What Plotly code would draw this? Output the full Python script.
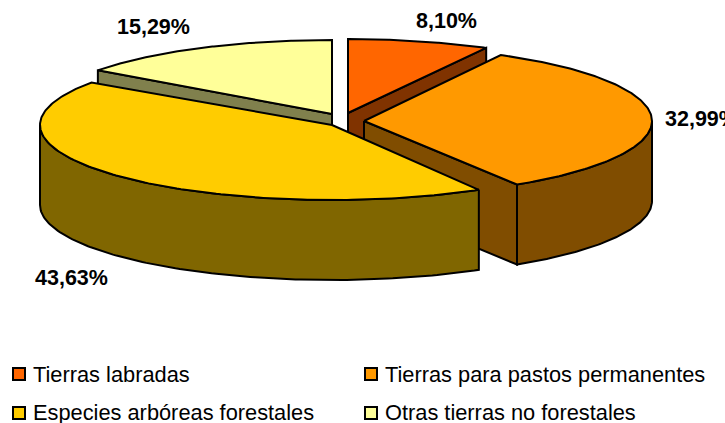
import numpy as np
import plotly.graph_objects as go

categories = ["Tierras labradas", "Tierras para pastos permanentes",
              "Especies arbóreas forestales", "Otras tierras no forestales"]
values = [8.10, 32.99, 43.63, 15.29]
top_colors = ["#FF6600", "#FF9900", "#FFCC00", "#FFFF99"]
wall_colors = ["#803300", "#804D00", "#806600", "#80804D"]

# pie geometry in page pixels
centers = [(348, 113), (364, 121), (332, 125), (332, 114)]
trim_start = [0, -0.8, 1.9, 1.2]
trim_end = [-0.7, 0, -0.4, 0]
radii_x = [290, 288, 292, 290]
radii_y = [74, 75, 75, 74]
depth = 80
label_pos = [(446, 21), (701, 119), (71, 278), (153, 27)]
legend_pos = [(19, 374), (371, 374), (19, 413), (371, 413)]
legend_text_pos = [(33, 374), (385, 374), (33, 412.5), (385, 412.5)]
draw_order = [3, 0, 1, 2]

total = sum(values)
edges = np.cumsum([0] + values) / total * 360


def pt(i, t):
    c = centers[i]
    r = np.radians(t)
    return c[0] + radii_x[i] * np.sin(r), c[1] - radii_y[i] * np.cos(r)


fig = go.Figure()


def poly(xs, ys, fill):
    fig.add_trace(go.Scatter(x=list(xs), y=list(ys), mode="lines", fill="toself", fillcolor=fill,
                             line=dict(color="black", width=2), hoverinfo="skip", showlegend=False))


for i in draw_order:
    c = centers[i]
    t0, t1 = edges[i] + trim_start[i], edges[i + 1] + trim_end[i]
    # the radial wall that faces the viewer
    if i != 2:
        ex, ey = pt(i, t0 if i == 3 else t1)
        poly([c[0], ex, ex, c[0], c[0]], [c[1], ey, ey + depth, c[1] + depth, c[1]], wall_colors[i])
    # outer wall: visible part of the rim, the front half of the ellipse
    a0, a1 = max(t0, 90), min(t1, 270)
    if a1 > a0:
        ts = np.linspace(a0, a1, 120)
        x, y = pt(i, ts)
        poly(np.r_[x, x[::-1], x[0]], np.r_[y, y[::-1] + depth, y[0]], wall_colors[i])
    # top face
    ts = np.linspace(t0, t1, 160)
    x, y = pt(i, ts)
    poly(np.r_[c[0], x, c[0]], np.r_[c[1], y, c[1]], top_colors[i])

for i, cat in enumerate(categories):
    fig.add_trace(go.Scatter(
        x=[legend_pos[i][0]], y=[legend_pos[i][1]], mode="markers",
        marker=dict(symbol="square", size=12, color=top_colors[i], line=dict(color="black", width=2)),
        hoverinfo="skip", showlegend=False, cliponaxis=False))
    fig.add_annotation(x=legend_text_pos[i][0], y=legend_text_pos[i][1], xref="x", yref="y",
                       xanchor="left", yanchor="middle", xshift=-2, text=cat, showarrow=False,
                       font=dict(family="Liberation Sans", size=21.8, color="black"))
    fig.add_annotation(x=label_pos[i][0], y=label_pos[i][1], xref="x", yref="y",
                       text=f"<b>{values[i]:.2f}%</b>".replace(".", ","), showarrow=False,
                       font=dict(family="Liberation Sans", size=21.5, color="black"))

fig.update_layout(width=725, height=423, margin=dict(l=0, r=0, t=0, b=0),
                  paper_bgcolor="white", plot_bgcolor="white", showlegend=False,
                  xaxis=dict(range=[0, 725], visible=False, fixedrange=True),
                  yaxis=dict(range=[423, 0], visible=False, fixedrange=True))
fig.write_html("out.html", config={"displayModeBar": False},
               post_script="document.body.style.margin='0';document.body.style.overflow='hidden';")
